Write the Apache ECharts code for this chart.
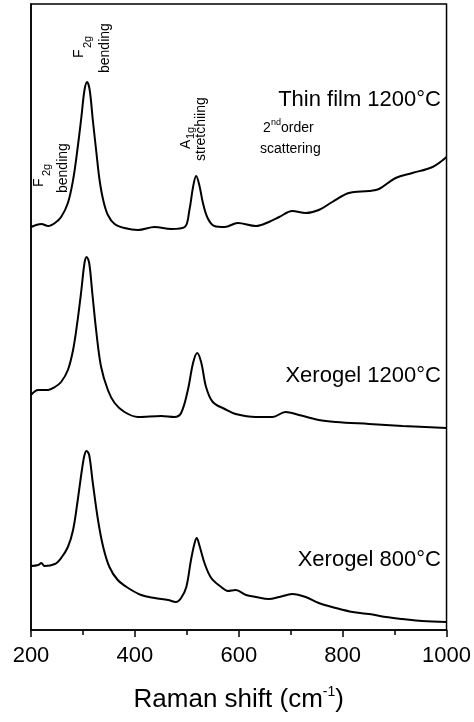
<!DOCTYPE html>
<html>
<head>
<meta charset="utf-8">
<script src="https://cdn.jsdelivr.net/npm/echarts@6/dist/echarts.min.js"></script>
<style>
html,body{margin:0;padding:0;background:#fff;}
#chart{width:474px;height:722px;}
</style>
</head>
<body>
<div id="chart"></div>
<script>
// Raman shift (cm-1) and intensity (a.u., offset traces)
const thinX = [200,220,233,246,258,271,281,290,297,303,308,313,319,326,332,339,348,361,380,406,438,470,496,505,512,518,524,531,540,553,573,598,633,658,678,703,729,754,780,812,851,870,902,934,973,1000];
const thinY = [403,406,404,407,413,427,450,483,513,540,548,540,510,477,450,430,415,406,402,400,403,401,403,420,443,454,445,427,412,404,403,407,404,408,413,419,417,420,428,437,439,441,452,457,463,473];

const midX = [200,214,233,246,258,271,281,289,297,303,307,312,318,326,335,348,361,380,406,451,476,489,502,512,520,528,537,550,573,594,633,665,690,716,754,787,851,915,1000];
const midY = [235,240,240,243,248,260,280,307,340,367,373,367,337,297,263,240,227,218,213,214,213,217,240,267,277,267,243,228,221,216,213,213,218,215,210,208,206,204,202];

const lowX = [200,214,220,226,246,258,271,281,290,298,303,307,312,319,329,339,351,367,387,412,438,464,479,489,499,508,515,519,524,534,547,566,579,594,614,633,658,678,703,729,754,787,819,851,883,915,953,1000];
const lowY = [64,65,67,64,66,72,83,100,130,160,175,179,175,147,110,83,63,50,42,35,32,30,28,32,43,70,87,92,85,67,52,43,39,40,35,33,31,33,36,33,27,22,18,16,13,11,9,8];

const seriesNames = ['Thin film 1200°C', 'Xerogel 1200°C', 'Xerogel 800°C'];
const xTicks = [200, 400, 600, 800, 1000];

function zip(xs, ys) { return xs.map((x, i) => [x, ys[i]]); }

const FONT = '"Liberation Sans", Arial, Helvetica, sans-serif';
const chart = echarts.init(document.getElementById('chart'));

function t(x, y, text, size, opts) {
  opts = opts || {};
  return {
    type: 'text', x: x, y: y, rotation: opts.rot || 0, z: 10,
    style: {
      text: text, fill: '#000',
      font: size + 'px ' + FONT,
      align: opts.align || 'left',
      verticalAlign: 'middle'
    }
  };
}
const R = Math.PI / 2;

const option = {
  animation: false,
  backgroundColor: '#fff',
  grid: { left: 31, right: 27, top: 4, bottom: 92, show: true, borderColor: '#000', borderWidth: 1.5 },
  xAxis: {
    type: 'value', min: xTicks[0], max: xTicks[xTicks.length - 1], interval: 200,
    axisLine: { show: true, lineStyle: { color: '#000', width: 1.5 } },
    axisTick: { show: true, inside: false, length: 7, lineStyle: { color: '#000', width: 1.5 } },
    minorTick: { show: true, splitNumber: 2, length: 5, lineStyle: { color: '#000', width: 1.5 } },
    splitLine: { show: false },
    axisLabel: { color: '#000', fontSize: 22, fontFamily: FONT, margin: 15, formatter: v => String(v) },
    name: '{a|Raman shift (cm}{b|-1}{a|)}',
    nameLocation: 'middle', nameGap: 55,
    nameTextStyle: {
      rich: {
        a: { fontSize: 26, fontFamily: FONT, color: '#000', lineHeight: 30 },
        b: { fontSize: 14, fontFamily: FONT, color: '#000', lineHeight: 14, verticalAlign: 'top' }
      }
    }
  },
  yAxis: {
    type: 'value', min: 0, max: 626,
    axisLine: { show: true, lineStyle: { color: '#000', width: 1.5 } },
    axisTick: { show: false }, axisLabel: { show: false }, splitLine: { show: false }
  },
  series: [
    { name: seriesNames[0], type: 'line', data: zip(thinX, thinY), smooth: 0.35, showSymbol: false, lineStyle: { color: '#000', width: 2 } },
    { name: seriesNames[1], type: 'line', data: zip(midX, midY), smooth: 0.35, showSymbol: false, lineStyle: { color: '#000', width: 2 } },
    { name: seriesNames[2], type: 'line', data: zip(lowX, lowY), smooth: 0.35, showSymbol: false, lineStyle: { color: '#000', width: 2 } }
  ],
  graphic: [
    t(441, 100, seriesNames[0], 22, { align: 'right' }),
    t(441, 376, seriesNames[1], 22, { align: 'right' }),
    t(441, 560, seriesNames[2], 22, { align: 'right' }),
    // 2nd order scattering
    t(263, 128, '2', 14),
    t(271, 123, 'nd', 9),
    t(281, 128, 'order', 14),
    t(260, 149, 'scattering', 14),
    // lower F2g bending (rotated)
    t(39, 187, 'F', 14, { rot: R }),
    t(47, 176, '2g', 11, { rot: R }),
    t(63.5, 193, 'bending', 14, { rot: R }),
    // upper F2g bending (rotated)
    t(79, 58, 'F', 14, { rot: R }),
    t(88, 48, '2g', 11, { rot: R }),
    t(105, 73, 'bending', 14, { rot: R }),
    // A1g stretchiing (rotated)
    t(186, 149, 'A', 14, { rot: R }),
    t(191, 139, '1g', 11, { rot: R }),
    t(201, 161, 'stretchiing', 14, { rot: R })
  ]
};
chart.setOption(option);
</script>
</body>
</html>
